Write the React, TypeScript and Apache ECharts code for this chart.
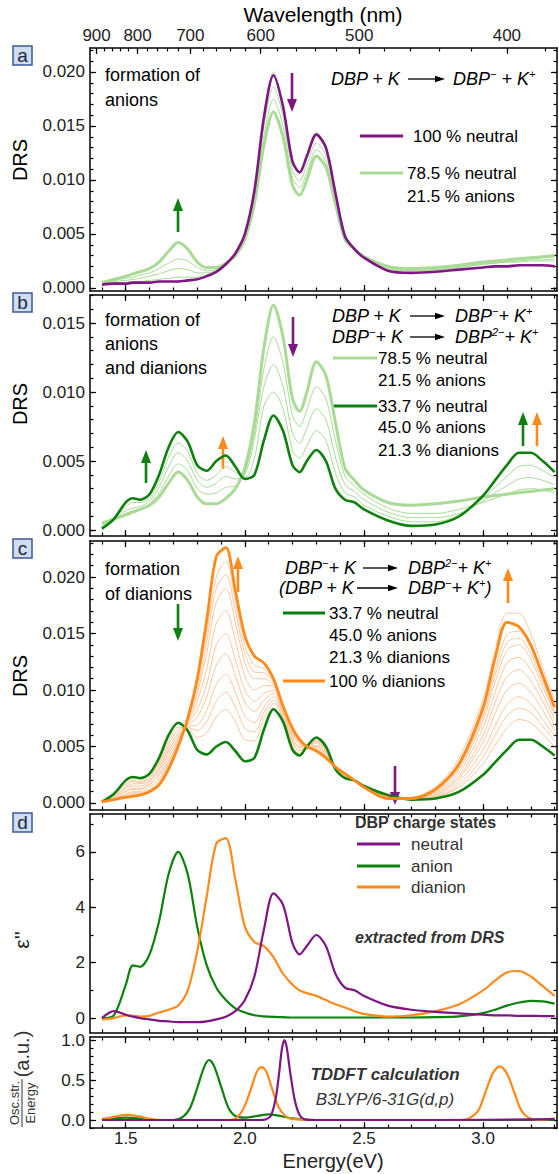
import React, { useEffect, useRef } from "react";
import * as echarts from "echarts";

// ---------------- data ----------------
const HC = 1239.84; // eV*nm
const ENERGY = [1.40, 1.45, 1.50, 1.53, 1.56, 1.60, 1.64, 1.68, 1.72, 1.76, 1.80, 1.84, 1.88, 1.92, 1.96, 2.00, 2.04, 2.08, 2.12, 2.16, 2.20, 2.23, 2.26, 2.30, 2.34, 2.38, 2.42, 2.46, 2.50, 2.60, 2.70, 2.80, 2.90, 3.00, 3.05, 3.10, 3.15, 3.20, 3.25, 3.30];

// panel a: formation of anions
const A_NEUTRAL = [.0003, .0004, .0004, .0005, .0005, .0005, .0006, .0006, .0006, .0007, .0008, .0011, .0015, .0022, .0032, .0050, .0090, .0158, .0197, .0168, .0117, .0107, .0122, .0142, .0130, .0088, .0048, .0036, .0028, .0016, .0014, .0015, .0017, .0019, .0020, .0020, .0021, .0021, .0021, .0020];
const A_ANION_215 = [.0005, .0008, .0011, .0013, .0015, .0018, .0024, .0034, .0042, .0036, .0024, .0019, .0019, .0023, .0030, .0045, .0078, .0132, .0163, .0140, .0095, .0086, .0100, .0122, .0112, .0078, .0045, .0036, .0029, .0020, .0018, .0019, .0021, .0024, .0025, .0026, .0027, .0028, .0029, .0030];
const A_STEP1 = [.0004, .0005, .0005, .0006, .0006, .0007, .0008, .0009, .0010, .0010, .0010, .0012, .0015, .0021, .0031, .0049, .0090, .0160, .0200, .0171, .0118, .0108, .0124, .0144, .0132, .0089, .0049, .0037, .0029, .0017, .0016, .0017, .0019, .0022, .0023, .0024, .0024, .0025, .0025, .0025];
const A_STEP2 = [.0004, .0006, .0007, .0008, .0009, .0011, .0013, .0016, .0018, .0017, .0014, .0014, .0016, .0021, .0030, .0047, .0085, .0150, .0186, .0159, .0109, .0099, .0114, .0134, .0123, .0084, .0047, .0036, .0029, .0018, .0016, .0017, .0019, .0022, .0023, .0024, .0025, .0026, .0026, .0027];
const A_STEP3 = [.0005, .0007, .0009, .0010, .0012, .0014, .0018, .0023, .0027, .0025, .0019, .0016, .0017, .0022, .0030, .0046, .0082, .0141, .0175, .0150, .0102, .0093, .0107, .0128, .0117, .0081, .0046, .0036, .0029, .0019, .0017, .0018, .0020, .0023, .0024, .0025, .0026, .0027, .0028, .0029];

// panel b: anions and dianions
const B_MIX_337 = [.0001, .0008, .0020, .0023, .0022, .0026, .0040, .0060, .0071, .0064, .0047, .0043, .0050, .0054, .0046, .0037, .0040, .0065, .0083, .0072, .0047, .0042, .0050, .0058, .0050, .0030, .0022, .0020, .0015, .0007, .0003, .0004, .0010, .0025, .0036, .0047, .0056, .0056, .0050, .0042];
const B_STEP1 = [.0004, .0008, .0012, .0014, .0015, .0019, .0027, .0039, .0048, .0043, .0030, .0026, .0027, .0031, .0032, .0042, .0070, .0117, .0140, .0121, .0083, .0075, .0087, .0104, .0095, .0065, .0039, .0032, .0026, .0016, .0012, .0012, .0015, .0020, .0023, .0026, .0029, .0030, .0029, .0027];
const B_STEP2 = [.0003, .0008, .0014, .0016, .0017, .0021, .0031, .0046, .0056, .0050, .0036, .0031, .0034, .0039, .0037, .0040, .0066, .0104, .0120, .0104, .0070, .0063, .0074, .0088, .0080, .0053, .0033, .0028, .0022, .0013, .0009, .0009, .0012, .0021, .0027, .0032, .0037, .0038, .0036, .0033];
const B_STEP3 = [.0002, .0008, .0017, .0020, .0020, .0023, .0035, .0053, .0063, .0057, .0041, .0036, .0040, .0046, .0042, .0038, .0052, .0090, .0100, .0088, .0058, .0052, .0061, .0072, .0065, .0041, .0027, .0024, .0018, .0010, .0006, .0006, .0011, .0023, .0031, .0039, .0046, .0047, .0043, .0038];

// panel c: dianions
const C_DIANION = [.0001, .0003, .0005, .0006, .0007, .0010, .0016, .0030, .0050, .0075, .0110, .0162, .0218, .0226, .0188, .0148, .0130, .0124, .0110, .0086, .0066, .0056, .0050, .0046, .0040, .0032, .0026, .0020, .0014, .0004, .0004, .0012, .0035, .0085, .0128, .0160, .0156, .0140, .0113, .0085];
const C_STEP1 = [.0001, .0007, .0017, .0020, .0019, .0023, .0036, .0055, .0067, .0066, .0058, .0062, .0076, .0083, .0072, .0056, .0055, .0075, .0088, .0075, .0050, .0044, .0050, .0056, .0048, .0030, .0023, .0020, .0015, .0007, .0003, .0005, .0014, .0035, .0051, .0066, .0074, .0071, .0061, .0050];
const C_STEP1B = [.0001, .0007, .0016, .0019, .0018, .0022, .0034, .0052, .0065, .0067, .0064, .0072, .0090, .0098, .0085, .0066, .0063, .0080, .0091, .0077, .0052, .0046, .0050, .0055, .0047, .0031, .0024, .0020, .0015, .0007, .0003, .0005, .0016, .0041, .0060, .0077, .0084, .0080, .0068, .0055];
const C_STEP2 = [.0001, .0006, .0014, .0017, .0017, .0020, .0031, .0049, .0062, .0068, .0069, .0082, .0105, .0114, .0098, .0077, .0071, .0085, .0094, .0078, .0054, .0047, .0050, .0054, .0046, .0031, .0024, .0020, .0015, .0006, .0003, .0006, .0019, .0047, .0068, .0087, .0094, .0088, .0074, .0059];
const C_STEP2B = [.0001, .0006, .0013, .0015, .0015, .0019, .0029, .0046, .0060, .0069, .0076, .0094, .0122, .0132, .0113, .0089, .0081, .0091, .0097, .0080, .0056, .0049, .0050, .0053, .0045, .0031, .0025, .0020, .0015, .0006, .0003, .0007, .0022, .0054, .0079, .0100, .0106, .0098, .0082, .0064];
const C_STEP3 = [.0001, .0005, .0011, .0013, .0013, .0017, .0026, .0043, .0058, .0070, .0083, .0105, .0140, .0150, .0127, .0100, .0090, .0097, .0100, .0081, .0058, .0050, .0050, .0051, .0044, .0031, .0025, .0020, .0015, .0005, .0003, .0008, .0024, .0060, .0089, .0112, .0118, .0108, .0090, .0069];
const C_STEP3B = [.0001, .0005, .0010, .0012, .0012, .0016, .0024, .0040, .0056, .0071, .0090, .0119, .0159, .0170, .0144, .0112, .0100, .0104, .0103, .0083, .0060, .0052, .0050, .0050, .0043, .0032, .0026, .0020, .0015, .0005, .0004, .0009, .0027, .0067, .0098, .0124, .0129, .0118, .0097, .0074];
const C_STEP4 = [.0001, .0004, .0008, .0010, .0010, .0014, .0021, .0037, .0054, .0072, .0096, .0133, .0178, .0190, .0160, .0124, .0110, .0110, .0105, .0084, .0062, .0053, .0050, .0049, .0042, .0032, .0026, .0020, .0014, .0005, .0004, .0010, .0030, .0073, .0107, .0135, .0140, .0127, .0103, .0078];
const C_STEP4B = [.0001, .0004, .0007, .0009, .0009, .0012, .0019, .0035, .0053, .0073, .0100, .0143, .0190, .0202, .0170, .0132, .0116, .0115, .0107, .0085, .0063, .0054, .0050, .0048, .0042, .0032, .0026, .0020, .0014, .0005, .0004, .0011, .0032, .0077, .0113, .0142, .0146, .0132, .0107, .0080];
const C_STEP5 = [.0001, .0003, .0006, .0008, .0008, .0011, .0018, .0033, .0052, .0074, .0105, .0151, .0200, .0214, .0179, .0139, .0122, .0119, .0108, .0085, .0064, .0055, .0050, .0047, .0041, .0032, .0026, .0020, .0014, .0004, .0004, .0011, .0033, .0080, .0118, .0149, .0152, .0137, .0110, .0082];
const C_STEP6 = [.0001, .0003, .0005, .0006, .0007, .0010, .0016, .0030, .0050, .0075, .0110, .0163, .0217, .0227, .0189, .0147, .0129, .0123, .0109, .0086, .0066, .0056, .0050, .0046, .0040, .0032, .0026, .0020, .0014, .0004, .0005, .0014, .0040, .0092, .0135, .0168, .0168, .0150, .0120, .0091];

// panel d: extracted epsilon''
const D_NEUTRAL = [0.0, 0.25, 0.12, 0.05, 0.0, -0.05, -0.1, -0.12, -0.15, -0.15, -0.15, -0.12, -0.05, 0.05, 0.25, 0.65, 1.5, 3.2, 4.5, 4.1, 2.7, 2.3, 2.6, 3.0, 2.6, 1.6, 1.1, 1.0, 0.8, 0.45, 0.3, 0.22, 0.17, 0.12, 0.1, 0.1, 0.08, 0.08, 0.07, 0.07];
const D_ANION = [0.0, 0.1, 1.2, 1.9, 1.85, 2.3, 3.5, 5.2, 6.0, 5.2, 3.3, 1.9, 1.1, 0.65, 0.35, 0.2, 0.1, 0.06, 0.04, 0.03, 0.02, 0.02, 0.02, 0.02, 0.02, 0.02, 0.02, 0.02, 0.02, 0.02, 0.02, 0.03, 0.06, 0.18, 0.3, 0.45, 0.56, 0.62, 0.6, 0.52];
const D_DIANION = [-0.05, 0.0, 0.1, 0.08, 0.05, 0.08, 0.2, 0.3, 0.45, 1.0, 2.4, 4.4, 6.3, 6.5, 5.0, 3.3, 2.75, 2.6, 2.2, 1.6, 1.2, 1.0, 0.9, 0.8, 0.65, 0.5, 0.38, 0.25, 0.15, 0.05, 0.1, 0.25, 0.5, 1.0, 1.35, 1.65, 1.7, 1.5, 1.15, 0.8];

// panel e: TDDFT (energy, osc.str./energy)
const E_NEUTRAL = [[1.40, 0], [1.80, 0], [2.06, 0], [2.09, 0.01], [2.11, 0.06], [2.13, 0.28], [2.145, 0.62], [2.155, 0.88], [2.165, 1.0], [2.175, 0.92], [2.19, 0.6], [2.21, 0.24], [2.23, 0.06], [2.25, 0.01], [2.28, 0], [2.80, 0], [3.30, 0.01]];
const E_ANION = [[1.40, 0.01], [1.45, 0.02], [1.50, 0.03], [1.55, 0.02], [1.62, 0.0], [1.70, 0.0], [1.74, 0.04], [1.77, 0.15], [1.80, 0.4], [1.83, 0.67], [1.85, 0.75], [1.87, 0.68], [1.90, 0.42], [1.93, 0.16], [1.96, 0.05], [2.00, 0.03], [2.05, 0.05], [2.10, 0.07], [2.15, 0.05], [2.20, 0.02], [2.30, 0.0], [2.60, 0.0], [3.00, 0.0], [3.30, 0.0]];
const E_DIANION = [[1.40, 0.01], [1.45, 0.04], [1.50, 0.065], [1.55, 0.05], [1.60, 0.015], [1.66, 0.0], [1.80, 0.0], [1.94, 0.0], [1.97, 0.04], [2.00, 0.18], [2.03, 0.43], [2.05, 0.6], [2.07, 0.66], [2.09, 0.6], [2.11, 0.43], [2.14, 0.17], [2.17, 0.05], [2.20, 0.01], [2.30, 0.0], [2.90, 0.0], [2.94, 0.02], [2.98, 0.12], [3.01, 0.35], [3.04, 0.58], [3.07, 0.67], [3.10, 0.58], [3.13, 0.35], [3.16, 0.12], [3.19, 0.03], [3.23, 0.0], [3.30, 0.02]];

// ticks
const E_TICKS_MAJOR = [1.5, 2.0, 2.5, 3.0];
const E_TICKS_MINOR = [1.4, 1.5, 1.6, 1.7, 1.8, 1.9, 2.0, 2.1, 2.2, 2.3, 2.4, 2.5, 2.6, 2.7, 2.8, 2.9, 3.0, 3.1, 3.2, 3.3];
const WL_TICKS_MAJOR = [900, 800, 700, 600, 500, 400];
const WL_TICKS_MINOR = [900, 880, 860, 840, 820, 800, 780, 760, 740, 720, 700, 680, 660, 640, 620, 600, 580, 560, 540, 520, 500, 480, 460, 440, 420, 400, 380];
const DRS_TICKS_A = [0, 0.005, 0.01, 0.015, 0.02];
const DRS_TICKS_B = [0, 0.005, 0.01, 0.015];
const DRS_TICKS_C = [0, 0.005, 0.01, 0.015, 0.02];
const EPS_TICKS = [0, 2, 4, 6];
const OSC_TICKS = [0, 0.5, 1.0];

// ---------------- style ----------------
const FONT = '"Liberation Sans", Arial, Helvetica, sans-serif';
const PURPLE = "#7e1683";
const GREEN = "#0d800d";
const LGREEN = "#a9db97";
const ORANGE = "#ff8a1c";
const LORANGE = "#fdc7a0";
const X_MIN = 1.35;
const X_MAX = 3.31;

const PANELS = [
  { top: 48, height: 243, min: -0.00028, max: 0.02222, ticks: DRS_TICKS_A, minorStep: 0.001, fmt: (v: number) => v.toFixed(3) },
  { top: 295, height: 241, min: -0.00043, max: 0.01703, ticks: DRS_TICKS_B, minorStep: 0.001, fmt: (v: number) => v.toFixed(3) },
  { top: 541, height: 269, min: -0.00062, max: 0.02319, ticks: DRS_TICKS_C, minorStep: 0.001, fmt: (v: number) => v.toFixed(3) },
  { top: 814, height: 219, min: -0.54, max: 7.37, ticks: EPS_TICKS, minorStep: 1, fmt: (v: number) => String(Math.round(v)) },
  { top: 1037, height: 91, min: -0.1, max: 1.0375, ticks: OSC_TICKS, minorStep: 0.1, fmt: (v: number) => v.toFixed(1) },
];

function stepsBetween(min: number, max: number, step: number) {
  const out: number[] = [];
  const start = Math.ceil(min / step - 1e-9);
  const end = Math.floor(max / step + 1e-9);
  for (let k = start; k <= end; k++) out.push(+(k * step).toFixed(6));
  return out;
}

function axis(gi: number, position: string, min: number, max: number, ticks: number[], len: number, line: boolean, label: any) {
  return {
    type: "value",
    gridIndex: gi,
    position,
    min,
    max,
    axisLine: { show: line, onZero: false, lineStyle: { color: "#000", width: 1.5 } },
    axisTick: { show: true, inside: true, length: len, customValues: ticks, lineStyle: { color: "#000", width: 1.2 } },
    axisLabel: label
      ? { show: true, customValues: label.values, formatter: label.formatter, fontSize: 17, color: "#222", fontFamily: FONT, margin: label.margin }
      : { show: false },
    splitLine: { show: false },
  };
}

function txt(x: number, y: number, text: string, o: any = {}) {
  return {
    type: "text",
    x,
    y,
    rotation: o.rotation || 0,
    silent: true,
    style: {
      text,
      fill: o.fill || "#000",
      font: `${o.style || "normal"} ${o.weight || "normal"} ${o.size || 18}px ${FONT}`,
      align: o.align || "left",
      verticalAlign: "middle",
    },
  };
}

const RICH = {
  n: { fontSize: 18, fontStyle: "italic", fontFamily: FONT, fill: "#000", lineHeight: 22, verticalAlign: "middle" },
  s: { fontSize: 11, fontStyle: "italic", fontFamily: FONT, fill: "#000", lineHeight: 11, verticalAlign: "top" },
};

function rich(x: number, y: number, text: string) {
  return {
    type: "text",
    x,
    y,
    silent: true,
    style: { text, rich: RICH, font: `italic 18px ${FONT}`, fill: "#000", align: "left", verticalAlign: "middle" },
  };
}

function hline(x1: number, x2: number, y: number, color: string, width: number) {
  return { type: "line", silent: true, shape: { x1, y1: y, x2, y2: y }, style: { stroke: color, lineWidth: width } };
}

function hArrow(x1: number, x2: number, y: number) {
  return [
    { type: "line", silent: true, shape: { x1, y1: y, x2: x2 - 6, y2: y }, style: { stroke: "#000", lineWidth: 1.3 } },
    { type: "polygon", silent: true, shape: { points: [[x2 - 10, y - 3.2], [x2, y], [x2 - 10, y + 3.2]] }, style: { fill: "#000" } },
  ];
}

function vArrow(x: number, yTail: number, yHead: number, color: string) {
  const d = yHead < yTail ? -1 : 1;
  return [
    { type: "line", silent: true, shape: { x1: x, y1: yTail, x2: x, y2: yHead - d * 9 }, style: { stroke: color, lineWidth: 2.6 } },
    { type: "polygon", silent: true, shape: { points: [[x - 5, yHead - d * 13], [x + 5, yHead - d * 13], [x, yHead]] }, style: { fill: color } },
  ];
}

function panelBox(y: number, letter: string) {
  return [
    { type: "rect", silent: true, shape: { x: 13, y, width: 19, height: 19 }, style: { fill: "#d0dcef", stroke: "#3b5a96", lineWidth: 1.5 } },
    txt(22.5, y + 9, letter, { size: 19, align: "center", fill: "#1c2a44" }),
  ];
}

function buildOption() {
  const grid = PANELS.map((p) => ({ left: 90, right: 2, top: p.top, height: p.height }));
  const xAxis: any[] = [];
  const yAxis: any[] = [];
  PANELS.forEach((p, gi) => {
    const last = gi === PANELS.length - 1;
    xAxis.push(
      axis(gi, "bottom", X_MIN, X_MAX, E_TICKS_MAJOR, 6, true, last ? { values: E_TICKS_MAJOR, formatter: (v: number) => v.toFixed(1), margin: 2 } : null)
    );
    xAxis.push(axis(gi, "bottom", X_MIN, X_MAX, E_TICKS_MINOR, 3.5, false, null));
    if (gi === 0) {
      const wlMajor = WL_TICKS_MAJOR.map((l) => HC / l);
      xAxis.push(axis(gi, "top", X_MIN, X_MAX, wlMajor, 6, true, { values: wlMajor, formatter: (v: number) => String(Math.round(HC / v)), margin: 4 }));
      xAxis.push(axis(gi, "top", X_MIN, X_MAX, WL_TICKS_MINOR.map((l) => HC / l), 3.5, false, null));
    } else {
      xAxis.push(axis(gi, "top", X_MIN, X_MAX, E_TICKS_MAJOR, 6, true, null));
      xAxis.push(axis(gi, "top", X_MIN, X_MAX, E_TICKS_MINOR, 3.5, false, null));
    }
    const minor = stepsBetween(p.min, p.max, p.minorStep);
    yAxis.push(axis(gi, "left", p.min, p.max, p.ticks, 6, true, { values: p.ticks, formatter: p.fmt, margin: 5 }));
    yAxis.push(axis(gi, "left", p.min, p.max, minor, 3.5, false, null));
    yAxis.push(axis(gi, "right", p.min, p.max, p.ticks, 6, true, null));
    yAxis.push(axis(gi, "right", p.min, p.max, minor, 3.5, false, null));
  });

  const series: any[] = [];
  const add = (gi: number, vals: number[], color: string, width: number) => {
    series.push({
      type: "line",
      xAxisIndex: gi * 4,
      yAxisIndex: gi * 4,
      data: ENERGY.map((e, i) => [e, vals[i]]),
      showSymbol: false,
      symbol: "none",
      smooth: 0.3,
      lineStyle: { color, width },
      silent: true,
    });
  };
  const addPairs = (gi: number, pairs: number[][], color: string, width: number) => {
    series.push({
      type: "line",
      xAxisIndex: gi * 4,
      yAxisIndex: gi * 4,
      data: pairs,
      showSymbol: false,
      symbol: "none",
      smooth: 0.3,
      lineStyle: { color, width },
      silent: true,
    });
  };

  // a
  [A_STEP1, A_STEP2, A_STEP3].forEach((s) => add(0, s, LGREEN, 1));
  add(0, A_ANION_215, LGREEN, 3);
  add(0, A_NEUTRAL, PURPLE, 2.6);
  // b
  [B_STEP1, B_STEP2, B_STEP3].forEach((s) => add(1, s, LGREEN, 1));
  add(1, A_ANION_215, LGREEN, 3);
  add(1, B_MIX_337, GREEN, 2.6);
  // c
  [C_STEP1, C_STEP1B, C_STEP2, C_STEP2B, C_STEP3, C_STEP3B, C_STEP4, C_STEP4B, C_STEP5, C_STEP6].forEach((s) => add(2, s, LORANGE, 1));
  add(2, B_MIX_337, GREEN, 2.6);
  add(2, C_DIANION, ORANGE, 2.8);
  // d
  add(3, D_ANION, GREEN, 2.2);
  add(3, D_DIANION, ORANGE, 2.2);
  add(3, D_NEUTRAL, PURPLE, 2.2);
  // e
  addPairs(4, E_ANION, GREEN, 2.2);
  addPairs(4, E_DIANION, ORANGE, 2.2);
  addPairs(4, E_NEUTRAL, PURPLE, 2.2);

  const g: any[] = [];
  // axis titles
  g.push(txt(323, 14, "Wavelength (nm)", { size: 21, align: "center" }));
  g.push(txt(333, 1161, "Energy(eV)", { size: 20, align: "center", fill: "#222" }));
  g.push(txt(20, 160, "DRS", { size: 20, align: "center", rotation: Math.PI / 2 }));
  g.push(txt(20, 404, "DRS", { size: 20, align: "center", rotation: Math.PI / 2 }));
  g.push(txt(20, 676, "DRS", { size: 20, align: "center", rotation: Math.PI / 2 }));
  g.push(txt(21, 940, "ε''", { size: 21, align: "center", rotation: Math.PI / 2, fill: "#222" }));
  g.push({
    type: "group",
    x: 22,
    y: 1080,
    rotation: Math.PI / 2,
    children: [
      txt(-23, -8, "Osc.str.", { size: 13, align: "center", fill: "#333" }),
      { type: "line", silent: true, shape: { x1: -47, y1: 0, x2: 1, y2: 0 }, style: { stroke: "#333", lineWidth: 1 } },
      txt(-23, 8, "Energy", { size: 13, align: "center", fill: "#333" }),
      txt(26, 0, "(a.u.)", { size: 20, align: "center", fill: "#333" }),
    ],
  });

  // panel boxes
  g.push(...panelBox(46, "a"), ...panelBox(293, "b"), ...panelBox(539, "c"), ...panelBox(813, "d"));

  // panel a annotations
  g.push(txt(105, 75, "formation of"), txt(105, 100, "anions"));
  g.push(rich(331, 79, "{n|DBP + K}"), ...hArrow(408, 445, 79), rich(453, 79, "{n|DBP}{s|−}{n| + K}{s|+}"));
  g.push(hline(360, 403, 136, PURPLE, 3), txt(413, 136, "100 % neutral", { size: 17 }));
  g.push(hline(360, 403, 173, LGREEN, 3), txt(407, 173, "78.5 % neutral", { size: 17 }), txt(407, 196, "21.5 % anions", { size: 17 }));
  g.push(...vArrow(292, 73, 112, PURPLE), ...vArrow(178, 232, 198, GREEN));

  // panel b annotations
  g.push(txt(105, 320, "formation of"), txt(105, 344, "anions"), txt(105, 368, "and dianions"));
  g.push(rich(332, 316, "{n|DBP + K}"), ...hArrow(410, 445, 316), rich(455, 316, "{n|DBP}{s|−}{n|+ K}{s|+}"));
  g.push(rich(332, 337, "{n|DBP}{s|−}{n|+ K}"), ...hArrow(410, 445, 337), rich(455, 337, "{n|DBP}{s|2−}{n|+ K}{s|+}"));
  g.push(hline(333, 377, 358, LGREEN, 3), txt(378, 358, "78.5 % neutral", { size: 17 }), txt(378, 380, "21.5 % anions", { size: 17 }));
  g.push(hline(333, 377, 406, GREEN, 3), txt(378, 406, "33.7 % neutral", { size: 17 }), txt(378, 427, "45.0 % anions", { size: 17 }), txt(378, 450, "21.3 % dianions", { size: 17 }));
  g.push(...vArrow(293, 317, 357, PURPLE), ...vArrow(146, 483, 450, GREEN), ...vArrow(223, 469, 436, ORANGE), ...vArrow(523, 446, 412, GREEN), ...vArrow(537, 446, 412, ORANGE));

  // panel c annotations
  g.push(txt(105, 569, "formation"), txt(105, 594, "of dianions"));
  g.push(rich(285, 568, "{n|DBP}{s|−}{n|+ K}"), ...hArrow(363, 398, 568), rich(408, 568, "{n|DBP}{s|2−}{n|+ K}{s|+}"));
  g.push(rich(279, 588, "{n|(DBP + K}"), ...hArrow(357, 398, 588), rich(408, 588, "{n|DBP}{s|−}{n|+ K}{s|+}{n|)}"));
  g.push(hline(283, 325, 613, GREEN, 3), txt(329, 613, "33.7 % neutral", { size: 17 }), txt(329, 635, "45.0 % anions", { size: 17 }), txt(329, 657, "21.3 % dianions", { size: 17 }));
  g.push(hline(283, 325, 681, ORANGE, 3), txt(329, 681, "100 % dianions", { size: 17 }));
  g.push(...vArrow(238, 592, 556, ORANGE), ...vArrow(178, 604, 641, GREEN), ...vArrow(395, 766, 805, PURPLE), ...vArrow(508, 603, 568, ORANGE));

  // panel d annotations
  g.push(txt(355, 822, "DBP charge states", { size: 16, weight: "bold", fill: "#333" }));
  g.push(hline(357, 400, 844, PURPLE, 3), txt(411, 844, "neutral", { size: 17, fill: "#333" }));
  g.push(hline(357, 400, 866, GREEN, 3), txt(411, 866, "anion", { size: 17, fill: "#333" }));
  g.push(hline(357, 400, 887, ORANGE, 3), txt(411, 887, "dianion", { size: 17, fill: "#333" }));
  g.push(txt(355, 937, "extracted from DRS", { size: 16, weight: "bold", style: "italic", fill: "#333" }));

  // panel e annotations
  g.push(txt(385, 1074, "TDDFT calculation", { size: 17, weight: "bold", style: "italic", fill: "#333", align: "center" }));
  g.push(txt(385, 1099, "B3LYP/6-31G(d,p)", { size: 17, style: "italic", fill: "#333", align: "center" }));

  return {
    animation: false,
    backgroundColor: "#fff",
    grid,
    xAxis,
    yAxis,
    series,
    graphic: { elements: g },
  };
}

export default function App() {
  const ref = useRef<HTMLDivElement>(null);
  useEffect(() => {
    if (!ref.current) return;
    const chart = echarts.init(ref.current, null, { renderer: "svg" });
    chart.setOption(buildOption() as any);
    return () => chart.dispose();
  }, []);
  return <div ref={ref} style={{ position: "absolute", left: 0, top: 0, width: 559, height: 1174 }} />;
}
